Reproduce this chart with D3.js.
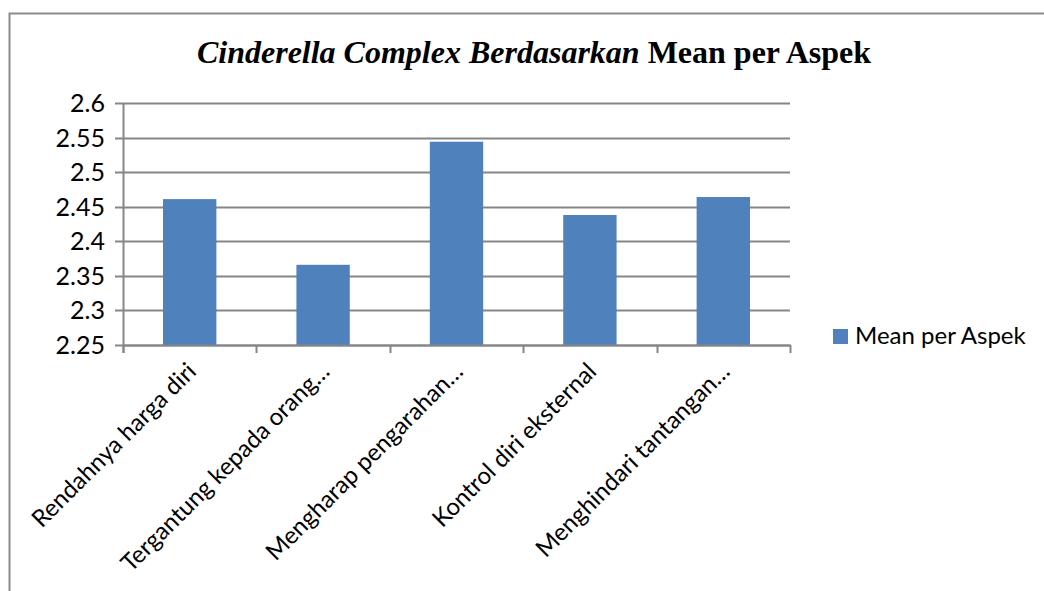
<!DOCTYPE html>
<html>
  <head>
    <meta charset="utf-8">
    <script src="https://d3js.org/d3.v7.min.js"></script>
    <style>
      body { margin: 0; background: #fff; }
    </style>
  </head>
  <body>
    <div id="chart"></div>
    <script>
var categories = ["Rendahnya harga diri", "Tergantung kepada orang\u2026", "Mengharap pengarahan\u2026", "Kontrol diri eksternal", "Menghindari tantangan\u2026"];
var meanValues = [2.461, 2.366, 2.544, 2.438, 2.464];
var yTicks = [2.25, 2.3, 2.35, 2.4, 2.45, 2.5, 2.55, 2.6];
var seriesName = "Mean per Aspek";

(function(){
var width = 1044, height = 591;
var plotLeft = 123, plotRight = 790, plotTop = 103, plotBottom = 345;
var font = "Lato, 'Open Sans', sans-serif";

var svg = d3.select("#chart")
  .append("svg")
  .attr("width", width)
  .attr("height", height);

// outer frame (only top + left show)
svg.append("path")
  .attr("d", "M9.5,591 L9.5,13.5 L1044,13.5")
  .attr("fill", "none")
  .attr("stroke", "#8c8c8c")
  .attr("stroke-width", 2);

var x = d3.scaleBand().domain(categories).range([plotLeft, plotRight]).paddingInner(0.6).paddingOuter(0.3);
var xTickScale = d3.scaleLinear().domain([0, categories.length]).range([plotLeft, plotRight]);
var y = d3.scaleLinear().domain([2.25, 2.6]).range([plotBottom, plotTop]);

// title
var title = svg.append("text")
  .attr("x", 534)
  .attr("y", 63)
  .attr("text-anchor", "middle")
  .style("font-family", "'Liberation Serif', 'Times New Roman', serif")
  .style("font-weight", "bold")
  .style("font-size", "32px")
  .attr("fill", "#000");
title.append("tspan").style("font-style", "italic").text("Cinderella Complex Berdasarkan ");
title.append("tspan").text("Mean per Aspek");

// gridlines
svg.append("g")
  .selectAll("line")
  .data(yTicks)
  .enter().append("line")
  .attr("x1", plotLeft - 8)
  .attr("x2", plotRight)
  .attr("y1", function(d){ return Math.round(y(d)) + 0.5; })
  .attr("y2", function(d){ return Math.round(y(d)) + 0.5; })
  .attr("stroke", "#868686")
  .attr("stroke-width", 2);

// y labels
svg.append("g")
  .selectAll("text")
  .data(yTicks)
  .enter().append("text")
  .attr("x", 105)
  .attr("y", function(d){ return y(d); })
  .attr("dy", "0.36em")
  .attr("text-anchor", "end")
  .style("font-family", font)
  .style("font-size", "25px")
  .attr("fill", "#000")
  .text(function(d){ return d3.format("")(d); });

// bars
svg.append("g")
  .selectAll("rect")
  .data(meanValues)
  .enter().append("rect")
  .attr("x", function(d, i){ return x(categories[i]); })
  .attr("width", x.bandwidth())
  .attr("y", function(d){ return y(d); })
  .attr("height", function(d){ return y(2.25) - y(d); })
  .attr("fill", "#4f81bd");

// axis lines
svg.append("line")
  .attr("x1", plotLeft + 0.5).attr("x2", plotLeft + 0.5)
  .attr("y1", plotTop).attr("y2", plotBottom + 8)
  .attr("stroke", "#868686").attr("stroke-width", 2);
svg.append("line")
  .attr("x1", plotLeft).attr("x2", plotRight + 1)
  .attr("y1", plotBottom + 0.5).attr("y2", plotBottom + 0.5)
  .attr("stroke", "#868686").attr("stroke-width", 2);
svg.append("g")
  .selectAll("line")
  .data(d3.range(categories.length + 1))
  .enter().append("line")
  .attr("x1", function(d){ return Math.round(xTickScale(d)) + 0.5; })
  .attr("x2", function(d){ return Math.round(xTickScale(d)) + 0.5; })
  .attr("y1", plotBottom)
  .attr("y2", plotBottom + 8)
  .attr("stroke", "#868686").attr("stroke-width", 2);

// x labels, rotated
svg.append("g")
  .selectAll("text")
  .data(categories)
  .enter().append("text")
  .attr("transform", function(d){
    var cx = x(d) + x.bandwidth() / 2 + 2;
    return "translate(" + cx + "," + (plotBottom + 22) + ") rotate(-45)";
  })
  .attr("text-anchor", "end")
  .attr("dy", "0.35em")
  .style("font-family", font)
  .style("font-size", "24px")
  .attr("fill", "#000")
  .text(function(d){ return d; });

// legend
var legend = svg.append("g").attr("transform", "translate(833,329)");
legend.append("rect").attr("width", 15).attr("height", 15).attr("fill", "#4f81bd");
legend.append("text")
  .attr("x", 22).attr("y", 15)
  .style("font-family", font)
  .style("font-size", "24px")
  .attr("fill", "#000")
  .text(seriesName);
})();
    </script>
  </body>
</html>
